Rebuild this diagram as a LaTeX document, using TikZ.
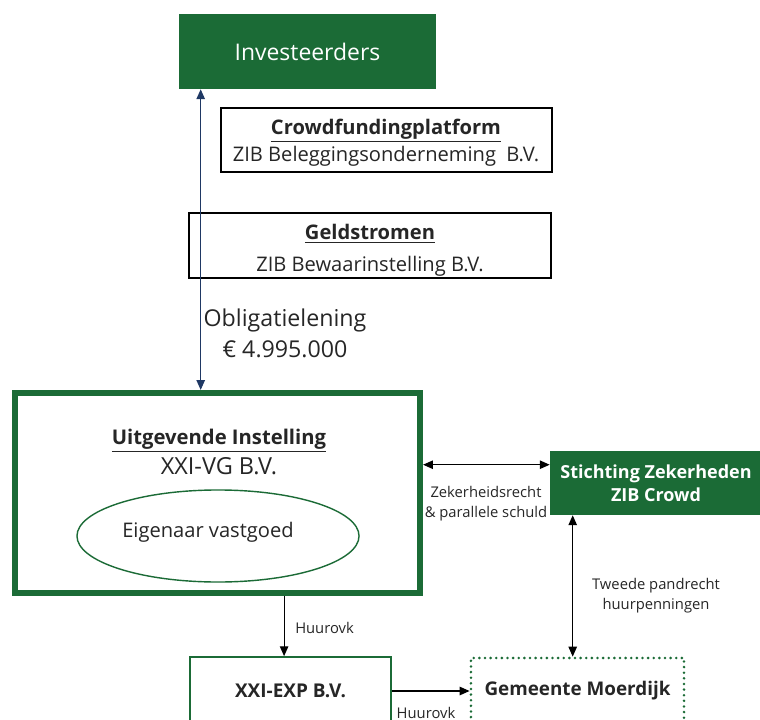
\documentclass[tikz,border=0pt]{standalone}
\usepackage{fontspec}
\setmainfont{Open Sans}
\usetikzlibrary{positioning,calc,arrows.meta,shapes.geometric}
\definecolor{zibgreen}{HTML}{1B6B36}
\definecolor{flownavy}{HTML}{1F3864}
\definecolor{textgray}{HTML}{262626}
\newcommand{\fsz}[2]{\fontsize{#1}{#2}\selectfont}

\begin{document}
\begin{tikzpicture}[x=0.025cm, y=-0.025cm, >={Triangle[length=7pt,width=6pt]},
    every node/.style={inner sep=0pt, text=textgray},
    greenbox/.style={fill=zibgreen, draw=none, text=white},
    plainbox/.style={draw=black, line width=1.4pt, fill=white},
    frame/.style={draw=zibgreen, fill=white},
    smalllabel/.style={align=center, font=\fsz{10.5}{14}},
    link/.style={draw=black, line width=0.8pt}]
  \useasboundingbox (0,0) rectangle (760,720);
  \clip (0,0) rectangle (760,720);

  % top of the chain
  \node[greenbox, minimum width=6.425cm, minimum height=1.875cm,
    font=\fsz{16.3}{20}] (inv) at (307.5,51.5) {Investeerders};
  \node[plainbox, minimum width=8.275cm, minimum height=1.6cm] (cfp) at (386.5,140) {};
  \node[align=center, font=\fsz{14.3}{19.5}] (cfptext) at (386,142.5)
    {\textbf{\underline{Crowdfundingplatform}}\\ZIB Beleggingsonderneming\ \ B.V.};
  \node[plainbox, minimum width=9.05cm, minimum height=1.625cm] (geld) at (370,245.5) {};
  \node[align=center, font=\fsz{14.3}{22.5}] (geldtext) at (370,250.5)
    {\textbf{\underline{Geldstromen}}\\ZIB Bewaarinstelling\ B.V.};

  % issuer
  \node[frame, line width=4.3pt, minimum width=10.125cm, minimum height=5cm] (uit) at (217.5,493) {};
  \node[align=center, font=\fsz{14.4}{21.5}] (uittitle) at (219,452)
    {\textbf{\underline{Uitgevende\ Instelling}}\\{\fsz{16.7}{21.5}XXI-VG B.V.}};
  \node[ellipse, draw=zibgreen, line width=1pt, minimum width=7.05cm, minimum height=2.3cm] (eig) at (218,536) {};
  \node[font=\fsz{14.3}{17}] (eigtext) at (208,532) {Eigenaar\ vastgoed};

  \node[greenbox, minimum width=5.3cm, minimum height=1.6cm, align=center,
    font=\bfseries\fsz{12.8}{16.5}] (stz) at (656,483) {Stichting Zekerheden\\ZIB Crowd};

  % bottom row
  \node[frame, line width=1.2pt, minimum width=5.025cm, minimum height=1.7cm,
    font=\bfseries\fsz{13.5}{15}] (exp) at (290.5,691) {XXI-EXP B.V.};
  \node[draw=zibgreen, line width=2pt, dash pattern=on 0pt off 4pt, line cap=round,
    minimum width=5.325cm, minimum height=1.65cm,
    font=\bfseries\fsz{13.4}{15}] (gem) at (577.5,691) {Gemeente\ Moerdijk};

  % money flow
  \coordinate (flow) at ([xshift=0.55cm]inv.south west);
  \draw[flownavy, line width=0.8pt, <->] (flow) -- (flow |- uit.north);
  \node[align=center, font=\fsz{16.5}{22}] (oblig) at (285,333)
    {Obligatielening\\€ 4.995.000};

  % securities
  \coordinate (zk) at ([yshift=-0.35cm]stz.north west);
  \draw[link, <->] (zk -| uit.east) -- (zk);
  \node[smalllabel] (zklabel) at (486,504) {Zekerheidsrecht\\\& parallele schuld};

  \coordinate (tw) at ([xshift=0.575cm]stz.south west);
  \draw[link, <->] (tw) -- (tw |- gem.north);
  \node[smalllabel] (twlabel) at (656,596) {Tweede pandrecht\\huurpenningen};

  % rent agreements
  \coordinate (hv) at ([xshift=-0.16cm]exp.north);
  \draw[link, ->] (hv |- uit.south) -- (hv);
  \node[smalllabel, anchor=west] (hvlabel) at (295,628) {Huurovk};
  \draw[link, ->] (exp.east) -- (exp.east -| gem.west);
  \node[smalllabel] (hv2label) at (426,713) {Huurovk};
\end{tikzpicture}
\end{document}
